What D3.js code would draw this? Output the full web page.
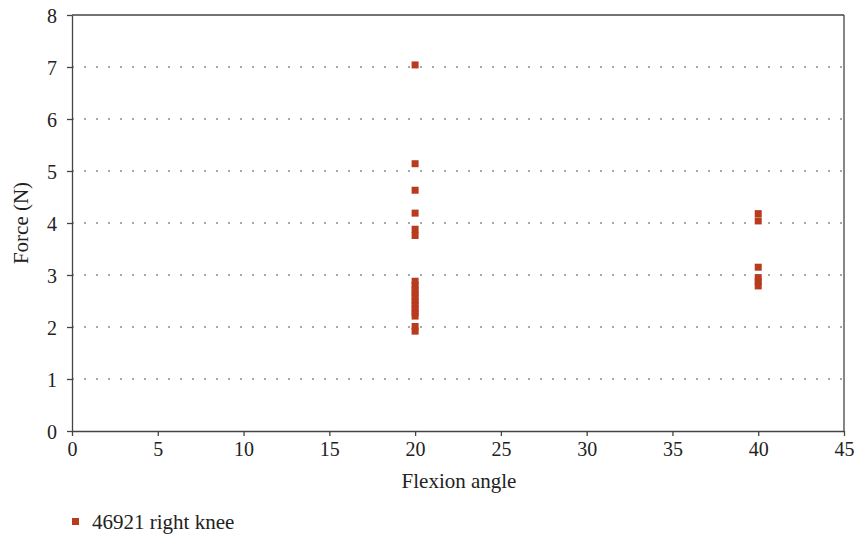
<!DOCTYPE html>
<html>
<head>
<meta charset="utf-8">
<script src="https://cdn.jsdelivr.net/npm/d3@7"></script>
<style>
	body { margin: 0; background: #fff; }
	text { font-family: "Liberation Serif", "DejaVu Serif", serif; fill: #222; }
	.axis path, .axis line { stroke: #444; stroke-width: 1.3; }
	.grid line { stroke: #555; stroke-width: 1.2; stroke-dasharray: 2,10; }
</style>
</head>
<body>
<div id="chart"></div>
<script>
// data
let angles = [20, 20, 20, 20, 20, 20, 20, 20, 20, 20, 20, 20, 20, 20, 20, 20, 20, 20,
	40, 40, 40, 40, 40, 40];
let forces = [7.04, 5.14, 4.63, 4.19, 3.88, 3.76, 2.88, 2.80, 2.72, 2.65, 2.58, 2.50, 2.43, 2.35, 2.28, 2.21, 2.01, 1.92,
	4.18, 4.04, 3.15, 2.95, 2.87, 2.79];
let xTicks = [0, 5, 10, 15, 20, 25, 30, 35, 40, 45];
let yTicks = [0, 1, 2, 3, 4, 5, 6, 7, 8];
let seriesName = "46921 right knee";
let xTitle = "Flexion angle";
let yTitle = "Force (N)";

let points = angles.map((a, i) => ({x: a, y: forces[i]}));

let margin = {top: 15, right: 11, bottom: 103, left: 72};
let width = 855 - margin.left - margin.right;
let height = 534 - margin.top - margin.bottom;
let color = "#b83b1e";

let svg = d3.select("#chart").append("svg")
	.attr("width", 855)
	.attr("height", 534)
	.append("g")
	.attr("transform", "translate(" + margin.left + "," + margin.top + ")");

let x = d3.scaleLinear().domain([0, 45]).range([0, width]);
let y = d3.scaleLinear().domain([0, 8]).range([height, 0]);

// dotted gridlines
svg.append("g")
	.attr("class", "grid")
	.selectAll("line")
	.data(yTicks.filter(d => d > 0 && d < 8))
	.enter()
	.append("line")
	.attr("x1", 0)
	.attr("x2", width)
	.attr("y1", d => y(d))
	.attr("y2", d => y(d));

// frame top and right
svg.append("line")
	.attr("x1", 0).attr("x2", width)
	.attr("y1", 0).attr("y2", 0)
	.attr("stroke", "#444").attr("stroke-width", 1.3);
svg.append("line")
	.attr("x1", width).attr("x2", width)
	.attr("y1", 0).attr("y2", height)
	.attr("stroke", "#444").attr("stroke-width", 1.3);

let xAxis = svg.append("g")
	.attr("class", "x-axis axis")
	.attr("transform", "translate(0," + height + ")")
	.call(d3.axisBottom(x).tickValues(xTicks).tickSize(5).tickSizeOuter(0).tickPadding(6));
xAxis.selectAll("text").style("font-size", "20px");

let yAxis = svg.append("g")
	.attr("class", "y-axis axis")
	.call(d3.axisLeft(y).tickValues(yTicks).tickSize(5).tickSizeOuter(0).tickPadding(10));
yAxis.selectAll("text").style("font-size", "20px").attr("dy", "0.36em");

// markers
let s = 7;
svg.selectAll(".pt")
	.data(points)
	.enter()
	.append("rect")
	.attr("class", "pt")
	.attr("x", d => x(d.x) - s / 2)
	.attr("y", d => y(d.y) - s / 2)
	.attr("width", s)
	.attr("height", s)
	.attr("fill", color);

// axis titles
svg.append("text")
	.attr("x", width / 2 + 1)
	.attr("y", height + 57)
	.style("text-anchor", "middle")
	.style("font-size", "21px")
	.text(xTitle);

svg.append("text")
	.attr("transform", "translate(" + (-44) + "," + (height / 2) + ") rotate(-90)")
	.style("text-anchor", "middle")
	.style("font-size", "21px")
	.text(yTitle);

// legend
let legend = svg.append("g")
	.attr("transform", "translate(0," + (height + 87) + ")");
legend.append("rect")
	.attr("x", 0)
	.attr("y", 0)
	.attr("width", 7)
	.attr("height", 7)
	.attr("fill", color);
legend.append("text")
	.attr("x", 20)
	.attr("y", 11)
	.style("font-size", "21px")
	.text(seriesName);
</script>
</body>
</html>
